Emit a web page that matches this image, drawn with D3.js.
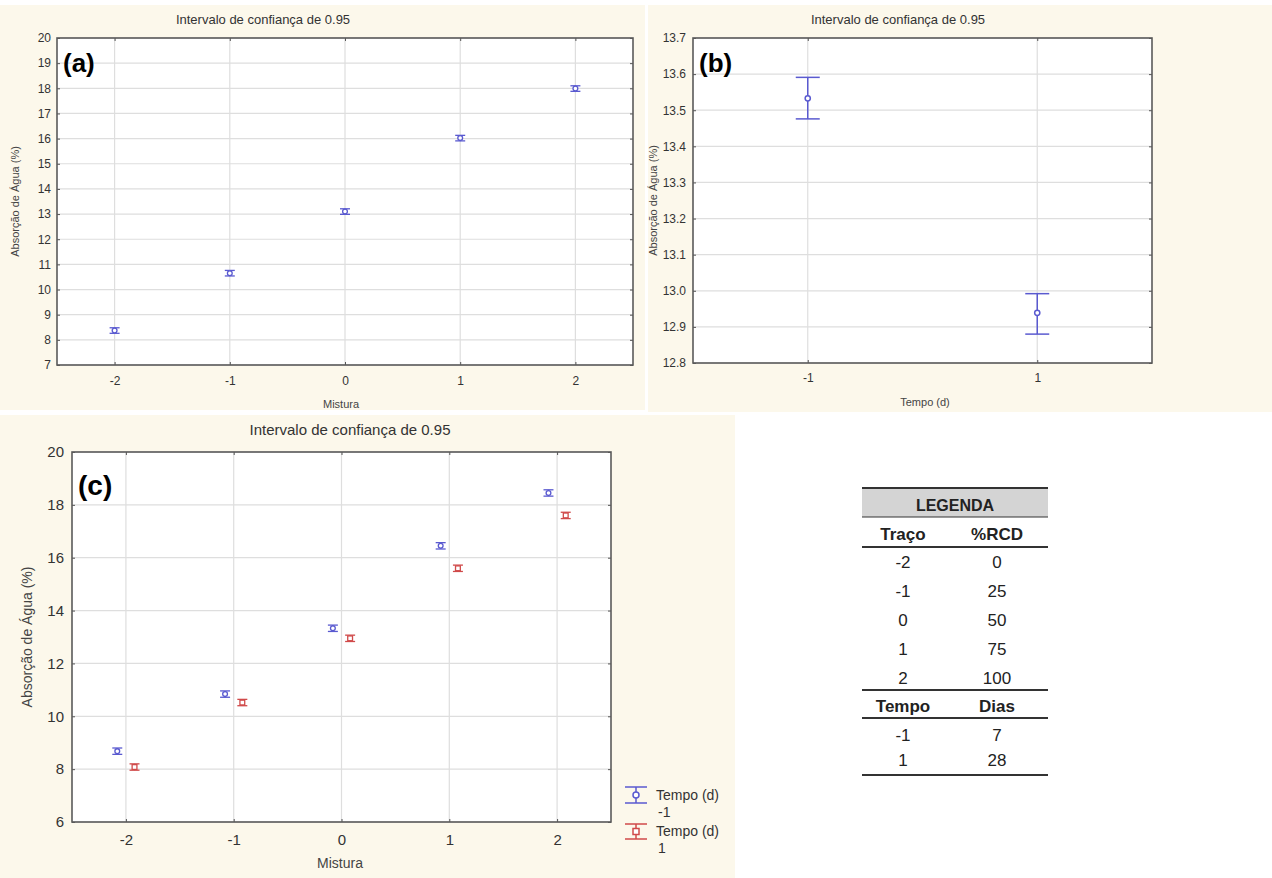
<!DOCTYPE html>
<html>
<head>
<meta charset="utf-8">
<script src="https://cdn.jsdelivr.net/npm/d3@7"></script>
<style>
  body { margin: 0; background: #fff; }
  svg { display: block; }
  text { font-family: "Liberation Sans", Arial, sans-serif; }
</style>
</head>
<body>
<script>
var W = 1272, H = 878;

// (a) Mistura
var mistura = [-2, -1, 0, 1, 2];
var meanA = [8.37, 10.65, 13.1, 16.02, 17.99];
var loA   = [8.26, 10.54, 12.99, 15.91, 17.88];
var hiA   = [8.48, 10.76, 13.21, 16.13, 18.10];

// (b) Tempo
var tempo = [-1, 1];
var meanB = [13.533, 12.939];
var loB   = [13.476, 12.880];
var hiB   = [13.591, 12.992];

// (c) Mistura x Tempo
var meanC1 = [8.68, 10.84, 13.33, 16.45, 18.45];   // tempo -1
var loC1   = [8.56, 10.72, 13.21, 16.33, 18.33];
var hiC1   = [8.80, 10.96, 13.45, 16.57, 18.57];
var meanC2 = [8.08, 10.52, 12.95, 15.60, 17.60];   // tempo 1
var loC2   = [7.96, 10.40, 12.83, 15.48, 17.48];
var hiC2   = [8.20, 10.64, 13.07, 15.72, 17.72];

// legend table
var tracoRows = [["-2", "0"], ["-1", "25"], ["0", "50"], ["1", "75"], ["2", "100"]];
var tempoRows = [["-1", "7"], ["1", "28"]];

var titleText = "Intervalo de confiança de 0.95";
var yLabel = "Absorção de Água (%)";
var blue = "#5a5ad0", red = "#d04a4a";
var cream = "#fcf8eb";

var svg = d3.select("body").append("svg").attr("width", W).attr("height", H);

// panel backgrounds
svg.append("rect").attr("x", 0).attr("y", 5).attr("width", 645).attr("height", 405).attr("fill", cream);
svg.append("rect").attr("x", 648).attr("y", 5).attr("width", 624).attr("height", 407).attr("fill", cream);
svg.append("rect").attr("x", 0).attr("y", 415).attr("width", 735).attr("height", 463).attr("fill", cream);

var plain = function (d) { return String(d); };

function panel(o) {
  var g = svg.append("g");
  var x = d3.scaleLinear().domain(o.xd).range([o.l, o.r]);
  var y = d3.scaleLinear().domain(o.yd).range([o.b, o.t]);

  g.append("rect").attr("x", o.l).attr("y", o.t).attr("width", o.r - o.l).attr("height", o.b - o.t).attr("fill", "#fff");

  // grid
  g.selectAll(".gy").data(o.yt).enter().append("line")
    .attr("x1", o.l).attr("x2", o.r).attr("y1", d => y(d)).attr("y2", d => y(d))
    .attr("stroke", "#dedede").attr("stroke-width", 1.2);
  g.selectAll(".gx").data(o.xt).enter().append("line")
    .attr("y1", o.t).attr("y2", o.b).attr("x1", d => x(d)).attr("x2", d => x(d))
    .attr("stroke", "#dedede").attr("stroke-width", 1.2);

  // axes with inner ticks
  var fmt = o.fmt || plain;
  var ax = [
    [d3.axisLeft(y).tickValues(o.yt).tickFormat(fmt), o.l, 0, o.pad],
    [d3.axisRight(y).tickValues(o.yt).tickFormat(""), o.r, 0, 3],
    [d3.axisBottom(x).tickValues(o.xt).tickFormat(plain), 0, o.b, o.xpad],
    [d3.axisTop(x).tickValues(o.xt).tickFormat(""), 0, o.t, 3]
  ];
  ax.forEach(function (a) {
    var s = g.append("g").attr("transform", "translate(" + a[1] + "," + a[2] + ")")
      .call(a[0].tickSizeInner(-3).tickSizeOuter(0).tickPadding(a[3]));
    s.select(".domain").remove();
    s.selectAll("line").attr("stroke", "#555");
    s.selectAll("text").attr("fill", "#333").style("font-size", o.fs + "px");
  });

  g.append("rect").attr("x", o.l).attr("y", o.t).attr("width", o.r - o.l).attr("height", o.b - o.t)
    .attr("fill", "none").attr("stroke", "#5a5a5a").attr("stroke-width", 1.6);

  g.append("text").attr("x", o.tx).attr("y", o.ty).attr("text-anchor", "middle")
    .attr("fill", "#333").style("font-size", o.tfs + "px").text(titleText);
  g.append("text").attr("transform", "translate(" + o.ylx + "," + ((o.t + o.b) / 2) + ") rotate(-90)")
    .attr("text-anchor", "middle").attr("fill", "#444").style("font-size", o.lfs + "px").text(yLabel);
  g.append("text").attr("x", o.xlx).attr("y", o.xly).attr("text-anchor", "middle")
    .attr("fill", "#444").style("font-size", o.lfs + "px").text(o.xl);
  g.append("text").attr("x", o.l + 6).attr("y", o.lety).attr("fill", "#000")
    .style("font-size", o.letfs + "px").style("font-weight", "bold").text(o.letter);

  o.series.forEach(function (s) {
    var pts = s.xs.map(function (v, i) { return { x: v + s.off, m: s.m[i], lo: s.lo[i], hi: s.hi[i] }; });
    var sg = g.append("g").attr("stroke", s.c).attr("fill", "#fff").attr("stroke-width", s.sw);
    sg.selectAll(".v").data(pts).enter().append("line")
      .attr("x1", d => x(d.x)).attr("x2", d => x(d.x)).attr("y1", d => y(d.lo)).attr("y2", d => y(d.hi));
    ["lo", "hi"].forEach(function (k) {
      sg.selectAll(".c" + k).data(pts).enter().append("line")
        .attr("x1", d => x(d.x) - s.cap).attr("x2", d => x(d.x) + s.cap)
        .attr("y1", d => y(d[k])).attr("y2", d => y(d[k]));
    });
    if (s.sq) {
      sg.selectAll(".m").data(pts).enter().append("rect")
        .attr("x", d => x(d.x) - s.r).attr("y", d => y(d.m) - s.r).attr("width", 2 * s.r).attr("height", 2 * s.r);
    } else {
      sg.selectAll(".m").data(pts).enter().append("circle")
        .attr("cx", d => x(d.x)).attr("cy", d => y(d.m)).attr("r", s.r);
    }
  });
  return { x: x, y: y };
}

panel({
  l: 57, r: 633, t: 38, b: 365, xd: [-2.5, 2.5], yd: [7, 20],
  xt: mistura, yt: d3.range(7, 21), fs: 12, pad: 6, xpad: 11, tfs: 13, lfs: 11, letfs: 26,
  tx: 263, ty: 24, ylx: 19, xlx: 341, xly: 408, xl: "Mistura", letter: "(a)", lety: 72,
  series: [{ xs: mistura, m: meanA, lo: loA, hi: hiA, off: 0, c: blue, cap: 5, r: 2.4, sw: 1.3 }]
});

panel({
  l: 693, r: 1152, t: 38, b: 363, xd: [-2, 2], yd: [12.8, 13.7],
  xt: tempo, yt: d3.range(12.8, 13.75, 0.1), fmt: d3.format(".1f"), fs: 12, pad: 7, xpad: 10, tfs: 13, lfs: 11, letfs: 26,
  tx: 898, ty: 24, ylx: 657, xlx: 925, xly: 406, xl: "Tempo (d)", letter: "(b)", lety: 72,
  series: [{ xs: tempo, m: meanB, lo: loB, hi: hiB, off: 0, c: blue, cap: 12, r: 2.6, sw: 1.5 }]
});

panel({
  l: 72, r: 611, t: 452, b: 822, xd: [-2.5, 2.5], yd: [6, 20],
  xt: mistura, yt: d3.range(6, 21, 2), fs: 15, pad: 8, xpad: 12, tfs: 15, lfs: 14, letfs: 28,
  tx: 350, ty: 435, ylx: 32, xlx: 340, xly: 868, xl: "Mistura", letter: "(c)", lety: 495,
  series: [
    { xs: mistura, m: meanC1, lo: loC1, hi: hiC1, off: -0.08, c: blue, cap: 5, r: 2.4, sw: 1.3 },
    { xs: mistura, m: meanC2, lo: loC2, hi: hiC2, off: 0.08, c: red, cap: 5, r: 2.4, sw: 1.3, sq: true }
  ]
});

// legend of (c)
var leg = [
  { c: blue, sq: false, y1: 787, y2: 803, lines: ["Tempo (d)", "-1"], ty: 800 },
  { c: red, sq: true, y1: 824, y2: 839, lines: ["Tempo (d)", "1"], ty: 836 }
];
leg.forEach(function (d) {
  var g = svg.append("g").attr("stroke", d.c).attr("stroke-width", 1.5).attr("fill", "#fff");
  var cx = 636;
  g.append("line").attr("x1", cx).attr("x2", cx).attr("y1", d.y1).attr("y2", d.y2);
  g.append("line").attr("x1", cx - 11).attr("x2", cx + 11).attr("y1", d.y1).attr("y2", d.y1);
  g.append("line").attr("x1", cx - 11).attr("x2", cx + 11).attr("y1", d.y2).attr("y2", d.y2);
  var my = (d.y1 + d.y2) / 2;
  if (d.sq) g.append("rect").attr("x", cx - 3).attr("y", my - 3).attr("width", 6).attr("height", 6);
  else g.append("circle").attr("cx", cx).attr("cy", my).attr("r", 3);
  var t = svg.append("text").attr("x", 656).attr("y", d.ty).attr("fill", "#333").style("font-size", "14px");
  t.append("tspan").attr("x", 656).text(d.lines[0]);
  t.append("tspan").attr("x", 658).attr("dy", 17).text(d.lines[1]);
});

// legend table
var tb = svg.append("g").style("font-family", "Lato, 'Open Sans', sans-serif");
var tl = 862, tr = 1048, c1 = 903, c2 = 997;
tb.append("rect").attr("x", tl).attr("y", 488).attr("width", tr - tl).attr("height", 29).attr("fill", "#d4d4d4");
tb.append("text").attr("x", (tl + tr) / 2).attr("y", 511).attr("text-anchor", "middle")
  .style("font-size", "16px").style("font-weight", "bold").attr("fill", "#222").text("LEGENDA");
function hline(yy, sw) {
  tb.append("line").attr("x1", tl).attr("x2", tr).attr("y1", yy).attr("y2", yy).attr("stroke", "#333").attr("stroke-width", sw);
}
hline(488, 2); hline(517, 1); hline(547, 2); hline(690, 2); hline(718, 2); hline(775, 2);
function row(a, b, yy, bold) {
  [[a, c1], [b, c2]].forEach(function (p) {
    tb.append("text").attr("x", p[1]).attr("y", yy).attr("text-anchor", "middle")
      .style("font-size", "17px").style("font-weight", bold ? "bold" : "normal").attr("fill", "#222").text(p[0]);
  });
}
row("Traço", "%RCD", 540, true);
tracoRows.forEach(function (r, i) { row(r[0], r[1], 568 + i * 29, false); });
row("Tempo", "Dias", 712, true);
tempoRows.forEach(function (r, i) { row(r[0], r[1], 741 + i * 25, false); });
</script>
</body>
</html>
